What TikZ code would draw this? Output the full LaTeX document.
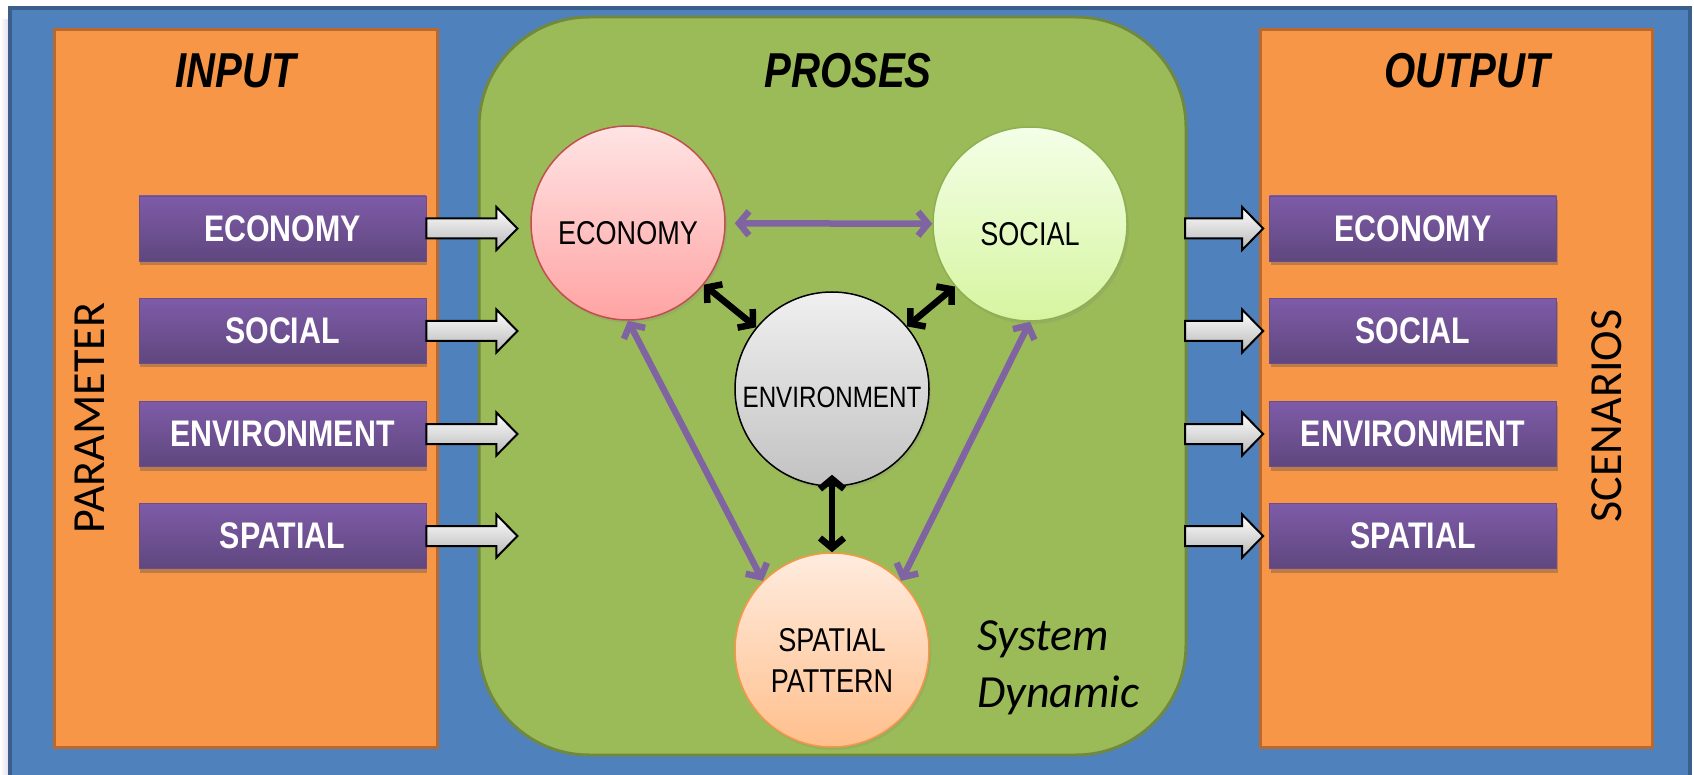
\documentclass[tikz,border=0pt]{standalone}
\usepackage{fontspec}
\setmainfont{Carlito}
\newfontfamily\narrowsf[FakeStretch=0.82]{Liberation Sans}
\usetikzlibrary{arrows.meta,shadows}
\definecolor{frameblue}{HTML}{4F81BD}
\definecolor{frameline}{HTML}{3A5F8B}
\definecolor{panelorange}{HTML}{F79646}
\definecolor{panelline}{HTML}{B9692D}
\definecolor{procgreen}{HTML}{9BBB59}
\definecolor{procline}{HTML}{71893F}
\definecolor{boxtop}{HTML}{7E5BA8}
\definecolor{boxbot}{HTML}{5F477E}
\definecolor{linkviolet}{HTML}{8064A2}
\definecolor{econtop}{HTML}{FFE4E4}
\definecolor{econbot}{HTML}{FFA3A3}
\definecolor{econline}{HTML}{C0504D}
\definecolor{soctop}{HTML}{F4FFE8}
\definecolor{socbot}{HTML}{D6F5A0}
\definecolor{socline}{HTML}{8FB050}
\definecolor{envtop}{HTML}{F0F0F0}
\definecolor{envbot}{HTML}{C2C2C2}
\definecolor{spatop}{HTML}{FFECDF}
\definecolor{spabot}{HTML}{FFBF8C}
\tikzset{
  panel/.style={fill=panelorange,draw=panelline,line width=3pt},
  parambox/.style={rectangle,draw=boxtop!85!black,line width=.8pt,top color=boxtop,bottom color=boxbot,
    minimum width=287pt,minimum height=65pt,inner sep=0pt,text=white,
    font=\narrowsf\bfseries\fontsize{37}{40}\selectfont,
    drop shadow={shadow xshift=1pt,shadow yshift=-4pt,opacity=.35,fill=black!70}},
  title/.style={font=\narrowsf\bfseries\itshape\fontsize{49}{52}\selectfont},
  sidetext/.style={rotate=90,inner sep=0pt,font=\fontsize{46}{50}\selectfont},
  bubble/.style={circle,minimum size=194pt,inner sep=0pt,line width=1.5pt,
    drop shadow={shadow xshift=2pt,shadow yshift=-3pt,opacity=.2}},
  bubbletext/.style={font=\narrowsf\fontsize{33}{41}\selectfont,align=center,yshift=-10pt},
  fatarrow/.style={draw=black,line width=2pt,top color=white,bottom color=black!28},
  link/.style={<->,>={Straight Barb[length=10pt,width=24pt]},line width=6.5pt},
}
% block arrow: #1 start point, #2 length
\newcommand\blockarrow[2]{\draw[fatarrow] #1 ++(0,-10) -- ++(#2-21,0) -- ++(0,-11.5) -- ++(21,21.5)
  -- ++(-21,21.5) -- ++(0,-11.5) -- ++(-#2+21,0) -- cycle;}
\begin{document}
\begin{tikzpicture}[x=1pt,y=-1pt]
\useasboundingbox (0,0) rectangle (1694,775);
\fill[white] (0,0) rectangle (1694,775);
\shade[left color=white,right color=linkviolet!25] (0,20) rectangle (10,775);
\draw[fill=frameblue,draw=frameline,line width=4pt] (10,8) rectangle (1690,795);
% three panels
\draw[panel] (54,30) rectangle (437,747);
\draw[panel] (1260,30) rectangle (1652,747);
\draw[fill=procgreen,draw=procline,line width=3pt,rounded corners=110pt] (479,17) rectangle (1186,755);
\node[title] (inp) at (236,71) {INPUT};
\node[title] (pro) at (848,71) {PROSES};
\node[title] (out) at (1467,71) {OUTPUT};
\node[sidetext] (param) at (90,418) {PARAMETER};
\node[sidetext] (scen) at (1607,416) {SCENARIOS};
% parameters in and scenarios out
\foreach \i/\t/\y in {1/ECONOMY/228.5,2/SOCIAL/331,3/ENVIRONMENT/434,4/SPATIAL/536}{
  \node[parambox] (lin\i) at (282.5,\y) {\t};
  \node[parambox] (rout\i) at (1413,\y) {\t};
  \blockarrow{(lin\i.east)}{91}
  \blockarrow{([xshift=-84pt]rout\i.west)}{78}
}
% system dynamic
\node[bubble,draw=econline,top color=econtop,bottom color=econbot,label={[bubbletext]center:ECONOMY}] (eco) at (628,223) {};
\node[bubble,draw=socline,top color=soctop,bottom color=socbot,label={[bubbletext]center:SOCIAL}] (soc) at (1030,224) {};
\node[bubble,draw=black,top color=envtop,bottom color=envbot,
  label={[bubbletext,font=\narrowsf\fontsize{29.5}{35}\selectfont,yshift=2pt]center:ENVIRONMENT}] (env) at (832,389) {};
\node[bubble,draw=panelorange,top color=spatop,bottom color=spabot,label={[bubbletext]center:SPATIAL\\PATTERN}] (spa) at (832,650) {};
\draw[link,linkviolet,shorten <=9pt] (eco) -- (soc);
\draw[link] (eco) -- (env);
\draw[link] (soc) -- (env);
\draw[link,shorten <=-12pt] (env) -- (spa);
\draw[link,linkviolet] (eco.south) -- (spa.135);
\draw[link,linkviolet] (soc.south) -- (spa.45);
\node[font=\itshape\fontsize{46}{57}\selectfont,align=left,anchor=west,inner sep=0pt] (sd) at (977,668) {System\\Dynamic};
\end{tikzpicture}
\end{document}
